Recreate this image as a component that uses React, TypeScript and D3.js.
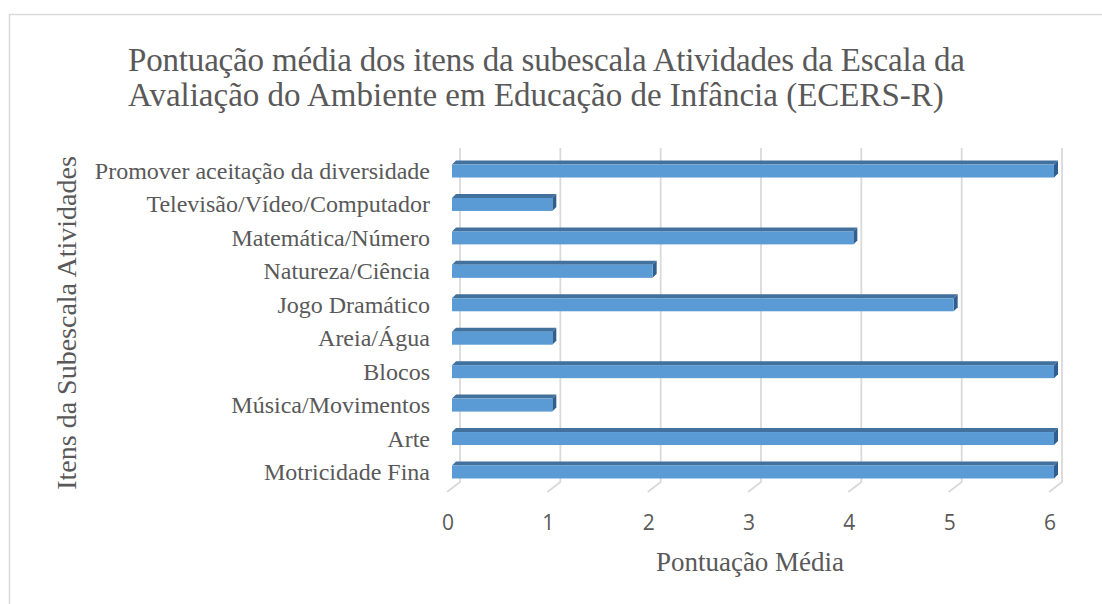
import React from "react";
import * as d3 from "d3";

const categories = [
  "Promover aceitação da diversidade",
  "Televisão/Vídeo/Computador",
  "Matemática/Número",
  "Natureza/Ciência",
  "Jogo Dramático",
  "Areia/Água",
  "Blocos",
  "Música/Movimentos",
  "Arte",
  "Motricidade Fina",
];
const values = [6, 1, 4, 2, 5, 1, 6, 1, 6, 6];
const xTicks = [0, 1, 2, 3, 4, 5, 6];
const titleLines = [
  "Pontuação média dos itens da subescala Atividades da Escala da",
  "Avaliação do Ambiente em Educação de Infância (ECERS-R)",
];
const xTitle = "Pontuação Média";
const yTitle = "Itens da Subescala Atividades";

const W = 1102;
const H = 604;

export default function App() {
  const x = d3.scaleLinear().domain([0, 6]).range([460, 1062]);
  const y = d3.scaleBand<string>().domain(categories).range([154.3, 488.7]);
  const gridTop = 148;
  const gridBottom = 482;
  const floorDx = -13;
  const floorDy = 10;
  const fdx = -8; // bar front face shift
  const bh = 13;
  const depth = 4;
  const serif = "'Liberation Serif', 'Times New Roman', serif";
  const sans = "'Open Sans', 'Noto Sans', sans-serif";

  return (
    <svg
      width={W}
      height={H}
      style={{ position: "absolute", left: 0, top: 0, background: "#fff" }}
    >
      <rect x={9.5} y={14.5} width={W} height={H} fill="#fff" stroke="#d9d9d9" strokeWidth={1.5} />
      {/* title */}
      <text
        x={128}
        y={71}
        fontFamily={serif}
        fontSize={33}
        fill="#595959"
        textLength={837}
        lengthAdjust="spacing"
      >
        {titleLines[0]}
      </text>
      <text x={128} y={106} fontFamily={serif} fontSize={33} fill="#595959">
        {titleLines[1]}
      </text>
      {/* gridlines */}
      {xTicks.map((t) => (
        <path
          key={t}
          d={`M${x(t)},${gridTop}V${gridBottom}l${floorDx},${floorDy}`}
          fill="none"
          stroke="#d9d9d9"
          strokeWidth={1.75}
        />
      ))}
      {/* tick labels */}
      {xTicks.map((t) => (
        <text
          key={"t" + t}
          x={x(t) - 12}
          y={529.5}
          textAnchor="middle"
          fontFamily={sans}
          fontSize={21}
          fill="#595959"
        >
          {t}
        </text>
      ))}
      {/* bars */}
      {categories.map((c, i) => {
        const yc = (y(c) as number) + y.bandwidth() / 2;
        const x0 = x(0) + fdx;
        const x1 = x(values[i]) + fdx;
        const yt = yc - bh / 2;
        const yb = yc + bh / 2;
        return (
          <g key={c}>
            <path
              d={`M${x0},${yt}L${x0 + depth},${yt - depth}L${x1 + depth},${yt - depth}L${x1},${yt}Z`}
              fill="#41719c"
            />
            <path
              d={`M${x1},${yt}L${x1 + depth},${yt - depth}L${x1 + depth},${yb - depth}L${x1},${yb}Z`}
              fill="#2f5f8f"
            />
            <rect x={x0} y={yt} width={x1 - x0} height={bh} fill="#5b9bd5" />
          </g>
        );
      })}
      {/* category labels */}
      {categories.map((c) => (
        <text
          key={"l" + c}
          x={430}
          y={(y(c) as number) + y.bandwidth() / 2 + 8}
          textAnchor="end"
          fontFamily={serif}
          fontSize={24}
          fill="#595959"
        >
          {c}
        </text>
      ))}
      {/* axis titles */}
      <text
        x={750}
        y={571}
        textAnchor="middle"
        fontFamily={serif}
        fontSize={27}
        fill="#595959"
      >
        {xTitle}
      </text>
      <text
        transform={`translate(76,323) rotate(-90)`}
        textAnchor="middle"
        fontFamily={serif}
        fontSize={28}
        fill="#595959"
      >
        {yTitle}
      </text>
    </svg>
  );
}
